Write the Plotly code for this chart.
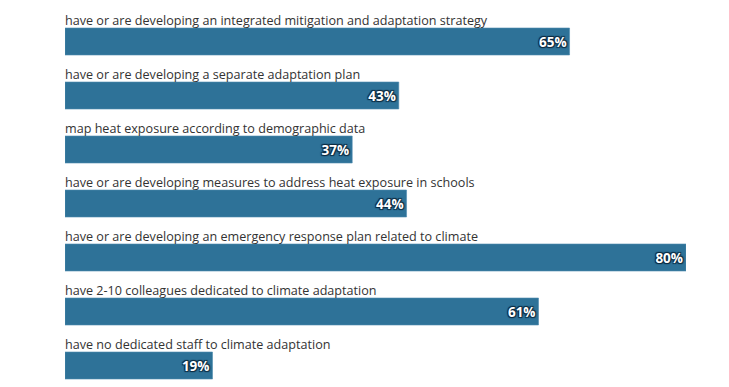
import plotly.graph_objects as go

labels = [
    "have or are developing an integrated mitigation and adaptation strategy",
    "have or are developing a separate adaptation plan",
    "map heat exposure according to demographic data",
    "have or are developing measures to address heat exposure in schools",
    "have or are developing an emergency response plan related to climate",
    "have 2-10 colleagues dedicated to climate adaptation",
    "have no dedicated staff to climate adaptation",
]
values = [65, 43, 37, 44, 80, 61, 19]
value_text = [f"{v}%" for v in values]

ypos = list(range(len(labels)))

fig = go.Figure()
fig.add_trace(go.Bar(
    x=values, y=ypos, orientation="h",
    width=0.5,
    marker=dict(color="#2e7298", line=dict(color="#4f8bb0", width=0.6)),
    text=value_text, textposition="inside", insidetextanchor="end",
    textfont=dict(family="Open Sans", size=13.5, color="white", weight="bold",
                  shadow="1px 1px 1px #0b2a40, -1px -1px 1px #0b2a40, 1px -1px 1px #0b2a40, -1px 1px 1px #0b2a40"),
    hoverinfo="skip",
))

for i, lab in enumerate(labels):
    fig.add_annotation(x=0, y=ypos[i], xref="x", yref="y", text=lab,
                       showarrow=False, xanchor="left", yanchor="bottom",
                       yshift=10.5, xshift=-2,
                       font=dict(family="Open Sans", size=12.6, color="#333333"))

fig.update_layout(
    width=729, height=387,
    margin=dict(l=57, r=51, t=0, b=0),
    plot_bgcolor="white", paper_bgcolor="white",
    showlegend=False,
    xaxis=dict(range=[0, 80], visible=False, fixedrange=True),
    yaxis=dict(range=[6.546, -0.6204], visible=False, fixedrange=True),
)

fig.write_html("out.html")
